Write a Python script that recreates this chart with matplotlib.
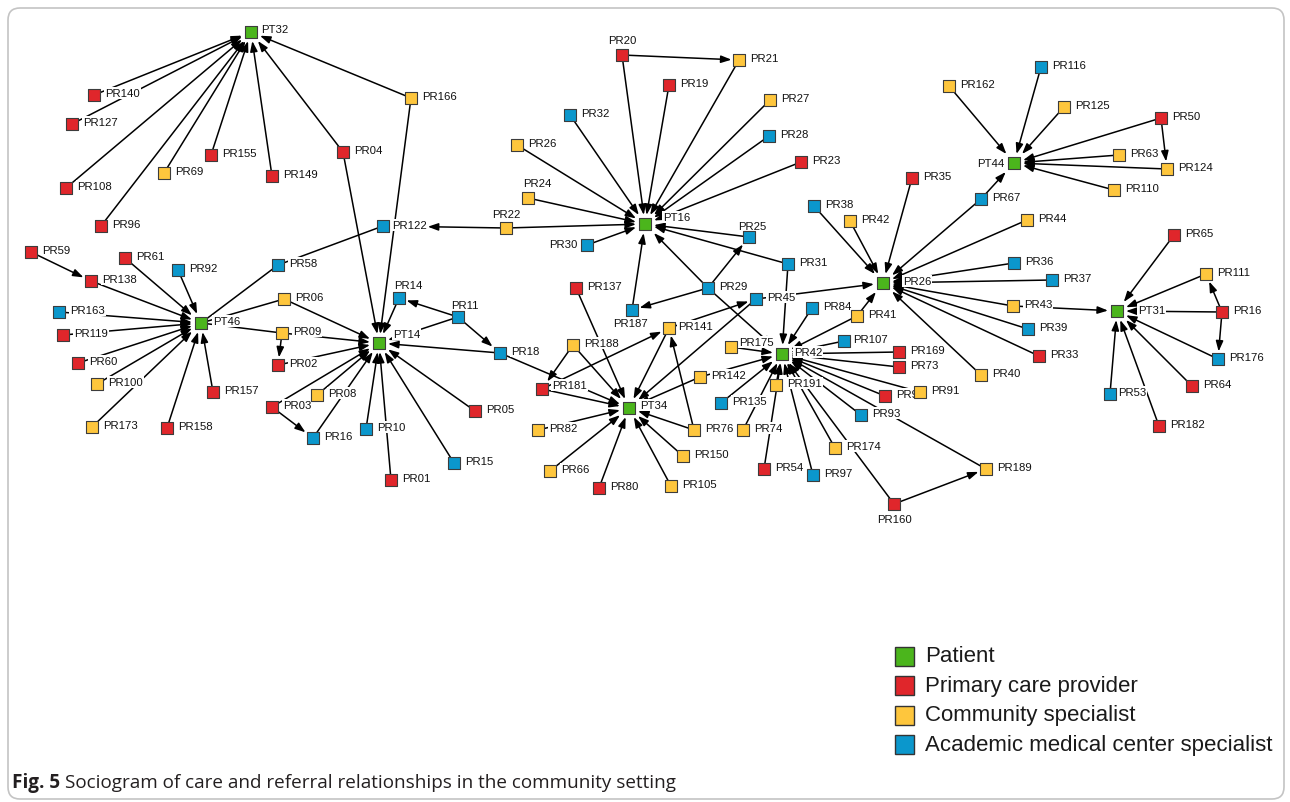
import re
import matplotlib
matplotlib.use('Agg')
import matplotlib.pyplot as plt
from matplotlib.patches import FancyArrowPatch, FancyBboxPatch, Rectangle

plt.rcParams['font.family'] = ['Liberation Sans', 'DejaVu Sans']

# ---- nodes (ids with a trailing letter are duplicated labels in the figure) ----
node_ids = [
    'PT32', 'PR140', 'PR127', 'PR108', 'PR96', 'PR69', 'PR155', 'PR149', 'PR04', 'PR166',
    'PR122', 'PR58', 'PR59', 'PR138', 'PR61', 'PR92', 'PR163', 'PR119', 'PR60', 'PR100',
    'PR173', 'PR158', 'PR157', 'PT46', 'PR06', 'PR09', 'PR02', 'PR03', 'PR08', 'PR16a',
    'PT14', 'PR14', 'PR11', 'PR18', 'PR05', 'PR10', 'PR15', 'PR01',
    'PR20', 'PR21', 'PR19', 'PR27', 'PR32', 'PR28', 'PR26', 'PR23', 'PR24', 'PR22',
    'PR30', 'PT16', 'PR25', 'PR31', 'PR29', 'PR45', 'PR137', 'PR187', 'PR188', 'PR181',
    'PR141', 'PT34', 'PR82', 'PR66', 'PR80', 'PR105', 'PR150', 'PR76', 'PR142', 'PR135',
    'PR175', 'PR42g', 'PR84', 'PR41', 'PR107', 'PR169', 'PR73', 'PR191', 'PR9', 'PR91',
    'PR93', 'PR74', 'PR174', 'PR54', 'PR97', 'PR160', 'PR189',
    'PR38', 'PR42y', 'PR35', 'PR26g', 'PR162', 'PR116', 'PR125', 'PR50', 'PT44', 'PR63',
    'PR124', 'PR110', 'PR67', 'PR44', 'PR36', 'PR37', 'PR43', 'PR39', 'PR33', 'PR40',
    'PR65', 'PR111', 'PT31', 'PR16b', 'PR176', 'PR64', 'PR53', 'PR182']
node_x = [
    251, 94, 72, 66, 101, 164, 211, 272, 343, 411,
    383, 278, 31, 91, 125, 178, 59, 63, 78, 97,
    92, 167, 213, 201, 284, 282, 278, 272, 317, 313,
    379, 399, 458, 500, 475, 366, 454, 391,
    622, 739, 669, 770, 570, 769, 517, 801, 528, 506,
    587, 645, 749, 788, 708, 756, 576, 632, 573, 542,
    669, 629, 538, 550, 599, 671, 683, 694, 700, 721,
    731, 782, 812, 857, 844, 899, 899, 776, 885, 920,
    861, 743, 835, 764, 813, 894, 986,
    814, 850, 912, 883, 949, 1041, 1064, 1161, 1014, 1119,
    1167, 1114, 981, 1027, 1014, 1052, 1013, 1028, 1039, 981,
    1174, 1206, 1117, 1222, 1218, 1192, 1110, 1159]
node_y = [
    33, 96, 125, 189, 227, 174, 156, 177, 153, 99,
    227, 266, 253, 282, 259, 271, 313, 336, 364, 385,
    428, 429, 393, 324, 300, 334, 366, 408, 396, 439,
    344, 299, 318, 354, 412, 430, 464, 481,
    56, 61, 86, 101, 116, 137, 146, 163, 199, 229,
    246, 225, 238, 265, 289, 300, 289, 311, 346, 390,
    329, 409, 431, 472, 489, 487, 457, 431, 378, 404,
    348, 355, 309, 317, 342, 353, 368, 386, 397, 393,
    416, 431, 449, 470, 476, 505, 470,
    207, 222, 179, 284, 87, 68, 108, 119, 164, 156,
    170, 191, 200, 221, 264, 281, 307, 330, 357, 376,
    236, 275, 312, 313, 360, 387, 395, 427]

patients = ['PT32', 'PT46', 'PT14', 'PT16', 'PT34', 'PR42g', 'PR26g', 'PT44', 'PT31']
primary_care = ['PR140', 'PR127', 'PR108', 'PR96', 'PR155', 'PR149', 'PR04', 'PR59', 'PR138',
                'PR61', 'PR119', 'PR60', 'PR158', 'PR157', 'PR02', 'PR03', 'PR05', 'PR01',
                'PR20', 'PR19', 'PR23', 'PR137', 'PR181', 'PR80', 'PR169', 'PR73', 'PR9',
                'PR54', 'PR160', 'PR35', 'PR50', 'PR33', 'PR65', 'PR16b', 'PR64', 'PR182']
community = ['PR69', 'PR166', 'PR100', 'PR173', 'PR06', 'PR09', 'PR08', 'PR21', 'PR27', 'PR26',
             'PR24', 'PR22', 'PR188', 'PR141', 'PR82', 'PR66', 'PR105', 'PR150', 'PR76',
             'PR142', 'PR175', 'PR41', 'PR191', 'PR91', 'PR74', 'PR174', 'PR189', 'PR42y',
             'PR162', 'PR125', 'PR63', 'PR124', 'PR110', 'PR44', 'PR43', 'PR40', 'PR111']
academic = ['PR122', 'PR58', 'PR92', 'PR163', 'PR16a', 'PR14', 'PR11', 'PR18', 'PR10', 'PR15',
            'PR32', 'PR28', 'PR30', 'PR25', 'PR31', 'PR29', 'PR45', 'PR187', 'PR135', 'PR84',
            'PR107', 'PR93', 'PR97', 'PR38', 'PR116', 'PR67', 'PR36', 'PR37', 'PR39', 'PR176',
            'PR53']

# ---- directed relationships (source, target) ----
referrals = [
    ('PR140', 'PT32'), ('PR127', 'PT32'), ('PR108', 'PT32'), ('PR96', 'PT32'), ('PR69', 'PT32'),
    ('PR155', 'PT32'), ('PR149', 'PT32'), ('PR04', 'PT32'), ('PR166', 'PT32'),
    ('PR04', 'PT14'), ('PR166', 'PT14'), ('PR06', 'PT14'), ('PR09', 'PT14'), ('PR02', 'PT14'),
    ('PR03', 'PT14'), ('PR08', 'PT14'), ('PR16a', 'PT14'), ('PR10', 'PT14'), ('PR01', 'PT14'),
    ('PR15', 'PT14'), ('PR05', 'PT14'), ('PR18', 'PT14'), ('PR11', 'PT14'), ('PR14', 'PT14'),
    ('PR11', 'PR14'), ('PR11', 'PR18'), ('PR03', 'PR16a'), ('PR09', 'PR02'),
    ('PR138', 'PT46'), ('PR61', 'PT46'), ('PR92', 'PT46'), ('PR163', 'PT46'), ('PR119', 'PT46'),
    ('PR60', 'PT46'), ('PR100', 'PT46'), ('PR173', 'PT46'), ('PR158', 'PT46'), ('PR157', 'PT46'),
    ('PR59', 'PR138'), ('PR22', 'PR122'),
    ('PR20', 'PT16'), ('PR19', 'PT16'), ('PR21', 'PT16'), ('PR27', 'PT16'), ('PR28', 'PT16'),
    ('PR23', 'PT16'), ('PR32', 'PT16'), ('PR26', 'PT16'), ('PR24', 'PT16'), ('PR22', 'PT16'),
    ('PR30', 'PT16'), ('PR25', 'PT16'), ('PR31', 'PT16'), ('PR29', 'PT16'), ('PR187', 'PT16'),
    ('PR20', 'PR21'), ('PR29', 'PR25'), ('PR29', 'PR187'), ('PR29', 'PR42g'),
    ('PR137', 'PT34'), ('PR188', 'PT34'), ('PR181', 'PT34'), ('PR18', 'PT34'), ('PR82', 'PT34'),
    ('PR66', 'PT34'), ('PR80', 'PT34'), ('PR105', 'PT34'), ('PR150', 'PT34'), ('PR76', 'PT34'),
    ('PR142', 'PT34'), ('PR141', 'PT34'), ('PR45', 'PT34'),
    ('PR188', 'PR181'), ('PR181', 'PR141'), ('PR76', 'PR141'), ('PR141', 'PR45'),
    ('PR45', 'PR26g'), ('PR31', 'PR42g'),
    ('PR175', 'PR42g'), ('PR84', 'PR42g'), ('PR107', 'PR42g'), ('PR169', 'PR42g'), ('PR73', 'PR42g'),
    ('PR9', 'PR42g'), ('PR91', 'PR42g'), ('PR93', 'PR42g'), ('PR97', 'PR42g'), ('PR174', 'PR42g'),
    ('PR160', 'PR42g'), ('PR54', 'PR42g'), ('PR74', 'PR42g'), ('PR135', 'PR42g'), ('PR142', 'PR42g'),
    ('PR191', 'PR42g'), ('PR189', 'PR42g'), ('PR41', 'PR42g'),
    ('PR41', 'PR26g'), ('PR160', 'PR189'),
    ('PR38', 'PR26g'), ('PR42y', 'PR26g'), ('PR35', 'PR26g'), ('PR67', 'PR26g'), ('PR44', 'PR26g'),
    ('PR36', 'PR26g'), ('PR37', 'PR26g'), ('PR43', 'PR26g'), ('PR39', 'PR26g'), ('PR33', 'PR26g'),
    ('PR40', 'PR26g'),
    ('PR162', 'PT44'), ('PR116', 'PT44'), ('PR125', 'PT44'), ('PR50', 'PT44'), ('PR63', 'PT44'),
    ('PR124', 'PT44'), ('PR110', 'PT44'), ('PR67', 'PT44'), ('PR50', 'PR124'),
    ('PR65', 'PT31'), ('PR111', 'PT31'), ('PR16b', 'PT31'), ('PR176', 'PT31'), ('PR64', 'PT31'),
    ('PR182', 'PT31'), ('PR53', 'PT31'), ('PR43', 'PT31'), ('PR16b', 'PR111'), ('PR16b', 'PR176'),
]
# undirected ties
links = [('PT46', 'PR58'), ('PT46', 'PR06'), ('PT46', 'PR09'), ('PR58', 'PR122')]

legend_labels = ['Patient', 'Primary care provider', 'Community specialist',
                 'Academic medical center specialist']
caption_bold = 'Fig. 5'
caption_text = 'Sociogram of care and referral relationships in the community setting'

colors = {'patient': '#4bb51c', 'primary': '#e0262b', 'community': '#fec63d', 'academic': '#0b97cc'}

# label placement tweaks (dx, dy, ha); default is to the right of the node
label_offset = {
    'PT32': (10, -3, 'left'), 'PT16': (18, -7, 'left'), 'PT14': (14, -9, 'left'),
    'PT46': (12, -2, 'left'), 'PT34': (11, -3, 'left'), 'PR26g': (20, -2, 'left'),
    'PT31': (21, -1, 'left'), 'PR42g': (12, -2, 'left'), 'PT44': (-10, 0, 'right'),
    'PR30': (-10, -1, 'right'), 'PR20': (0, -15, 'center'), 'PR24': (9, -15, 'center'),
    'PR22': (0, -14, 'center'), 'PR25': (3, -11, 'center'), 'PR14': (9, -13, 'center'),
    'PR11': (7, -12, 'center'), 'PR187': (-1, 13, 'center'), 'PR160': (0, 15, 'center'),
    'PR175': (8, -5, 'left'), 'PR181': (10, -4, 'left'), 'PR53': (8, -2, 'left'),
    'PR122': (9, -1, 'left'), 'PR141': (9, -2, 'left'), 'PR107': (9, -2, 'left'),
}

W, H = 1290, 803
fig = plt.figure(figsize=(W / 100, H / 100), dpi=100)
ax = fig.add_axes([0, 0, 1, 1])
ax.set_xlim(0, W)
ax.set_ylim(H, 0)
ax.axis('off')

kind = {}
for group, k in ((patients, 'patient'), (primary_care, 'primary'),
                 (community, 'community'), (academic, 'academic')):
    for n in group:
        kind[n] = k
pos = {n: (x, y) for n, x, y in zip(node_ids, node_x, node_y)}

# frame
ax.add_patch(FancyBboxPatch((8, 9), 1276, 791, boxstyle='round,pad=0,rounding_size=12',
                            fc='none', ec='#c4c4c4', lw=1.2, zorder=0))

texts = {}
for n in node_ids:
    dx, dy, ha = label_offset.get(n, (11, -2, 'left'))
    x, y = pos[n]
    texts[n] = ax.text(x + dx, y + dy, re.sub('[a-z]$', '', n), fontsize=8.2, ha=ha,
                       va='center', color='#111111', zorder=3,
                       bbox=dict(boxstyle='square,pad=0.08', fc='white', ec='none'))

fig.canvas.draw()
rend = fig.canvas.get_renderer()
inv = ax.transData.inverted()


def entry_t(p0, p1, box):
    # Liang-Barsky: parameter where segment p0->p1 enters box
    xmin, xmax, ymin, ymax = box
    t0, t1 = 0.0, 1.0
    dx, dy = p1[0] - p0[0], p1[1] - p0[1]
    for p, q in ((-dx, p0[0] - xmin), (dx, xmax - p0[0]), (-dy, p0[1] - ymin), (dy, ymax - p0[1])):
        if p == 0:
            if q < 0:
                return None
        else:
            r = q / p
            if p < 0:
                t0 = max(t0, r)
            else:
                t1 = min(t1, r)
    if t0 > t1 or t0 <= 0:
        return None
    return t0


def target_boxes(n):
    x, y = pos[n]
    half = 9 if kind[n] == 'patient' else 7.5
    boxes = [(x - half, x + half, y - half, y + half)]
    if kind[n] != 'patient':
        bb = texts[n].get_window_extent(rend)
        (x0, y0), (x1, y1) = inv.transform([[bb.x0, bb.y0], [bb.x1, bb.y1]])
        boxes.append((min(x0, x1) - 1, max(x0, x1) + 1, min(y0, y1) - 1, max(y0, y1) + 1))
    return boxes


for a, b in referrals:
    p0, p1 = pos[a], pos[b]
    ts = [t for t in (entry_t(p0, p1, bx) for bx in target_boxes(b)) if t is not None]
    t = min(ts) if ts else 1.0
    end = (p0[0] + t * (p1[0] - p0[0]), p0[1] + t * (p1[1] - p0[1]))
    ax.add_patch(FancyArrowPatch(p0, end, arrowstyle='-|>,head_length=0.62,head_width=0.22',
                                 mutation_scale=10, lw=1.1, color='black',
                                 shrinkA=0, shrinkB=0, zorder=1))

for a, b in links:
    ax.plot([pos[a][0], pos[b][0]], [pos[a][1], pos[b][1]], color='black', lw=1.1, zorder=1)

for group, k in ((patients, 'patient'), (primary_care, 'primary'),
                 (community, 'community'), (academic, 'academic')):
    ax.scatter([pos[n][0] for n in group], [pos[n][1] for n in group], marker='s', s=8.8 ** 2,
               c=colors[k], edgecolors='#3c3c3c', linewidths=0.8, zorder=4)

# legend
for i, (lab, k) in enumerate(zip(legend_labels, ['patient', 'primary', 'community', 'academic'])):
    yc = 657 + i * 29.5
    ax.add_patch(Rectangle((895, yc - 9.5), 19, 19, fc=colors[k], ec='#333333', lw=1.0, zorder=4))
    ax.text(925, yc, lab, fontsize=16, va='center', ha='left', color='#1a1a1a')

# caption, fitted to the width of the original line
fs = 11.0
t1 = ax.text(12, 783, caption_bold, fontsize=fs, weight='bold', family='Open Sans',
             va='center', color='#231f20')
t2 = ax.text(0, 783, caption_text, fontsize=fs, family='Open Sans', va='center', color='#231f20')
fig.canvas.draw()
w1 = t1.get_window_extent(rend).width
w2 = t2.get_window_extent(rend).width
fs = fs * 664 / (w1 + w2 + 5)
t1.set_fontsize(fs)
t2.set_fontsize(fs)
fig.canvas.draw()
w1 = t1.get_window_extent(rend).width
t2.set_x(12 + w1 + 5)

fig.savefig('out.png', dpi=100)
